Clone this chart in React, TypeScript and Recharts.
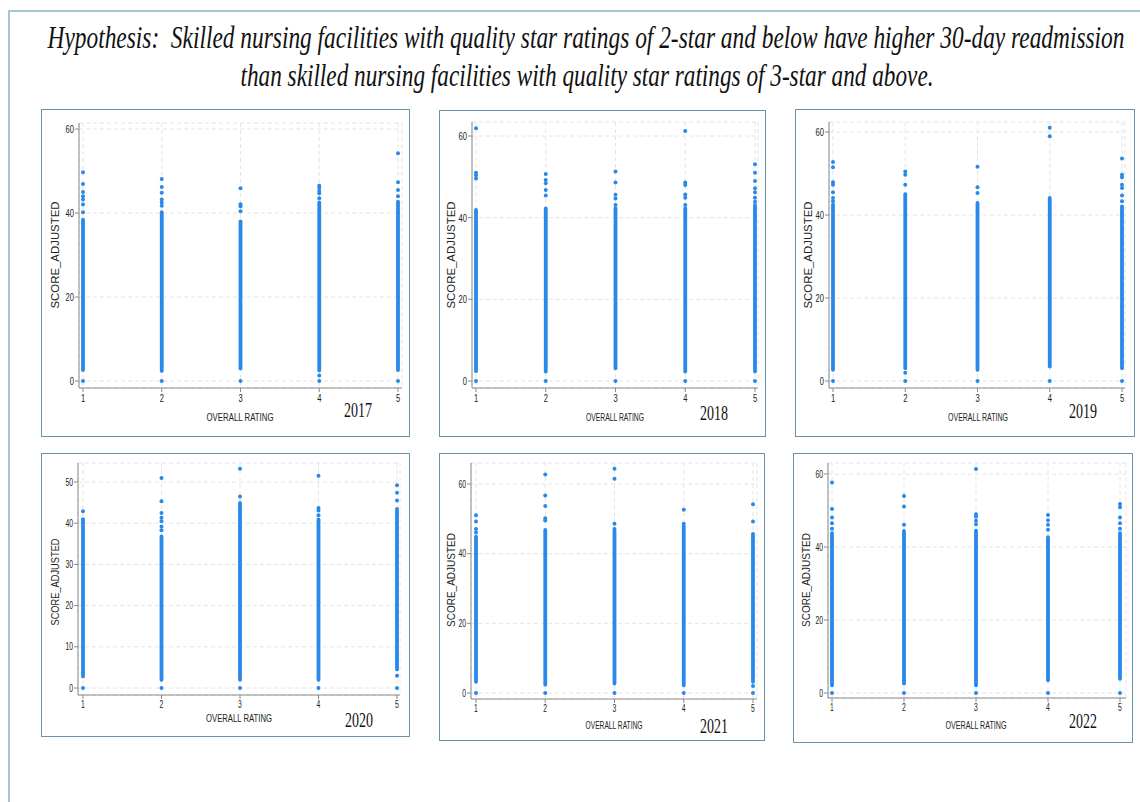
import React from 'react';
import { ComposedChart, Scatter, Line, XAxis, YAxis, CartesianGrid } from 'recharts';

// Overall star rating categories on the x axis
const ratings = [1, 2, 3, 4, 5];
const ratingTicks = [1, 2, 3, 4, 5];
const scoreTicks60 = [0, 20, 40, 60];
const scoreTicks50 = [0, 10, 20, 30, 40, 50];

// Dense run of facility scores for each rating: [lowest, highest] of the packed column
const band2017 = [[2.6, 38.4], [2.4, 40.2], [3.0, 38.0], [2.5, 42.5], [2.6, 42.7]];
const band2018 = [[2.4, 41.9], [2.3, 42.3], [3.1, 42.3], [2.3, 42.3], [2.3, 43.1]];
const band2019 = [[2.7, 42.5], [3.1, 45.0], [2.7, 42.9], [3.5, 44.1], [3.1, 42.1]];
const band2020 = [[2.8, 41.0], [2.0, 36.8], [2.0, 44.9], [2.0, 40.9], [4.5, 43.5]];
const band2021 = [[3.2, 44.9], [2.4, 46.8], [2.7, 46.4], [2.2, 47.8], [3.2, 45.7]];
const band2022 = [[2.1, 43.8], [2.6, 44.4], [2.1, 44.5], [3.5, 42.7], [3.9, 43.8]];

// Individual facilities that sit apart from the packed column, per rating
const pts2017 = [
  [49.7, 46.9, 45.0, 44.0, 43.2, 42.0, 40.2, 0],
  [48.1, 46.2, 44.8, 43.2, 42.5, 41.7, 0],
  [45.9, 42.1, 41.6, 40.4, 0],
  [46.5, 46.0, 45.3, 44.7, 43.5, 1.3, 0],
  [54.2, 47.3, 45.5, 44.0, 0],
];
const pts2018 = [
  [61.9, 51.0, 50.4, 49.6, 0],
  [50.7, 49.2, 48.4, 46.8, 45.4, 0],
  [51.3, 48.6, 45.6, 44.7, 43.1, 0],
  [61.2, 48.6, 48.0, 45.7, 44.9, 43.1, 0],
  [53.1, 51.0, 49.0, 47.2, 46.2, 44.9, 43.9, 0],
];
const pts2019 = [
  [52.8, 51.5, 47.9, 47.3, 45.5, 44.1, 43.3, 0],
  [50.5, 49.7, 47.3, 2.0, 0],
  [51.6, 46.7, 45.3, 0],
  [61.0, 59.0, 0],
  [53.6, 49.7, 49.1, 47.3, 46.5, 44.7, 43.3, 0],
];
const pts2020 = [
  [42.9, 0],
  [51.0, 45.3, 42.5, 41.3, 40.5, 39.2, 38.3, 0],
  [53.2, 46.5, 0],
  [51.5, 43.7, 43.1, 41.9, 0],
  [49.2, 47.4, 45.5, 3.0, 0],
];
const pts2021 = [
  [51.0, 49.2, 47.1, 46.1, 0],
  [62.7, 56.7, 53.7, 50.2, 49.5, 0],
  [64.4, 61.5, 48.6, 47.1, 0],
  [52.6, 48.6, 0],
  [54.2, 49.2, 2.0, 0],
];
const pts2022 = [
  [57.7, 50.4, 48.1, 46.5, 45.0, 0],
  [54.0, 51.1, 46.1, 0],
  [61.4, 49.0, 48.3, 47.2, 46.2, 0],
  [48.8, 47.3, 46.1, 44.7, 0],
  [51.8, 50.9, 48.1, 46.5, 45.0, 0],
];

const DOT = '#2789ea';
const PANEL_EDGE = '#6995a7';
const FRAME_EDGE = '#a9c5d1';
const AXIS = '#8a8a8a';
const INK = '#222';
const SANS = "'Liberation Sans', Arial, sans-serif";
const SERIF = "'Liberation Serif', 'Times New Roman', serif";
// horizontal squeeze of the lettering
const SQ = 0.68;

type Panel = {
  year: string;
  bands: number[][];
  pts: number[][];
  yTicks: number[];
  box: [number, number, number, number];
  plot: [number, number, number, number];
  xPx: [number, number];
  yPx: [number, number];
  yearAt: [number, number];
  xTitle: [number, number, number];
  yTitle: [number, number, number];
  font: number;
};

const panels: Panel[] = [
  { year: '2017', bands: band2017, pts: pts2017, yTicks: scoreTicks60, font: 11.2,
    box: [41, 109, 410, 437], plot: [79, 123, 402, 388], xPx: [83, 398], yPx: [381, 129],
    yearAt: [358, 410], xTitle: [240, 417, 67], yTitle: [55, 255, 107] },
  { year: '2018', bands: band2018, pts: pts2018, yTicks: scoreTicks60, font: 11.2,
    box: [439, 110, 766, 437], plot: [472, 122, 758, 388], xPx: [476, 755], yPx: [381, 136],
    yearAt: [714, 413], xTitle: [615, 417, 58], yTitle: [451, 255, 107] },
  { year: '2019', bands: band2019, pts: pts2019, yTicks: scoreTicks60, font: 11.2,
    box: [795, 109, 1135, 437], plot: [829, 122, 1125, 388], xPx: [833, 1122], yPx: [381, 132],
    yearAt: [1083, 411], xTitle: [978, 417, 60], yTitle: [808, 255, 107] },
  { year: '2020', bands: band2020, pts: pts2020, yTicks: scoreTicks50, font: 10,
    box: [41, 453, 410, 737], plot: [78, 463, 400, 695], xPx: [83, 397], yPx: [688, 482],
    yearAt: [359, 720], xTitle: [239, 718, 66], yTitle: [55, 582, 87] },
  { year: '2021', bands: band2021, pts: pts2021, yTicks: scoreTicks60, font: 10,
    box: [439, 453, 765, 741], plot: [471, 463, 757, 699], xPx: [476, 753], yPx: [693, 484],
    yearAt: [714, 726], xTitle: [614, 725, 57], yTitle: [451, 580, 94] },
  { year: '2022', bands: band2022, pts: pts2022, yTicks: scoreTicks60, font: 10,
    box: [793, 453, 1133, 743], plot: [828, 463, 1126, 698], xPx: [832, 1120], yPx: [693, 474],
    yearAt: [1083, 721], xTitle: [976, 725, 61], yTitle: [806, 580, 94] },
];

const Y_AXIS_W = 30;
const X_AXIS_H = 24;

const dotShape = (props: any) => (
  <circle cx={props.cx} cy={props.cy} r={2} fill={DOT} />
);

const makeXTick = (font: number) => (props: any) => (
  <g transform={`translate(${props.x},${props.y})`}>
    <text
      x={0} y={0} dy="0.72em" textAnchor="middle" fontFamily={SANS} fontSize={font}
      fill={INK} transform={`scale(${SQ},1)`}
    >
      {props.payload.value}
    </text>
  </g>
);

const makeYTick = (font: number) => (props: any) => (
  <g transform={`translate(${props.x},${props.y})`}>
    <text
      x={0} y={0} dy="0.36em" textAnchor="end" fontFamily={SANS} fontSize={font}
      fill={INK} transform={`scale(${SQ},1)`}
    >
      {props.payload.value}
    </text>
  </g>
);

function ScorePanel({ p }: { p: Panel }) {
  const [bl, bt, br, bb] = p.box;
  const [pl, pt, pr, pb] = p.plot;
  const w = br - bl;
  const h = bb - bt;

  // axis domains chosen so the ticks land where the plot frame needs them
  const xs = (p.xPx[1] - p.xPx[0]) / 4;
  const xDomain = [1 - (p.xPx[0] - pl) / xs, 5 + (pr - p.xPx[1]) / xs];
  const topTick = p.yTicks[p.yTicks.length - 1];
  const ys = (p.yPx[0] - p.yPx[1]) / topTick;
  const yDomain = [-(pb - p.yPx[0]) / ys, (p.yPx[0] - pt) / ys];

  const scatterData = ratings.flatMap((r, i) => p.pts[i].map((v) => ({ x: r, y: v })));

  return (
    <>
      <div
        style={{
          position: 'absolute', left: bl, top: bt, width: w, height: h,
          border: `1.5px solid ${PANEL_EDGE}`, boxSizing: 'border-box', background: '#fff',
        }}
      />
      <div style={{ position: 'absolute', left: bl, top: bt }}>
        <ComposedChart
          width={w}
          height={h}
          margin={{ top: pt - bt, right: br - pr, bottom: bb - pb - X_AXIS_H, left: pl - bl - Y_AXIS_W }}
        >
          <CartesianGrid stroke="#e4e4e4" strokeDasharray="4 3" />
          <XAxis
            type="number"
            dataKey="x"
            domain={xDomain}
            ticks={ratingTicks}
            allowDataOverflow
            height={X_AXIS_H}
            stroke={AXIS}
            tickSize={4}
            tickMargin={2}
            tick={makeXTick(p.font)}
          />
          <YAxis
            type="number"
            dataKey="y"
            domain={yDomain}
            ticks={p.yTicks}
            allowDataOverflow
            width={Y_AXIS_W}
            stroke={AXIS}
            tickSize={4}
            tickMargin={1}
            tick={makeYTick(p.font)}
          />
          {ratings.map((r, i) => (
            <Line
              key={`band-${r}`}
              data={[{ x: r, y: p.bands[i][0] }, { x: r, y: p.bands[i][1] }]}
              dataKey="y"
              stroke={DOT}
              strokeWidth={3.8}
              strokeLinecap="round"
              dot={false}
              activeDot={false}
              isAnimationActive={false}
            />
          ))}
          <Scatter data={scatterData} fill={DOT} shape={dotShape} isAnimationActive={false} />
        </ComposedChart>
      </div>
    </>
  );
}

const TITLE_SQ = 0.76;

export default function App() {
  return (
    <div
      style={{
        position: 'absolute', left: 0, top: 0, width: 1140, height: 802,
        overflow: 'hidden', background: '#fff',
      }}
    >
      <div
        style={{
          position: 'absolute', left: 8, top: 10, width: 1140, height: 800,
          borderTop: `2px solid ${FRAME_EDGE}`, borderLeft: `2px solid ${FRAME_EDGE}`,
          boxSizing: 'border-box',
        }}
      />
      {panels.map((p) => (
        <ScorePanel key={p.year} p={p} />
      ))}
      <svg
        width={1140}
        height={802}
        style={{ position: 'absolute', left: 0, top: 0, pointerEvents: 'none' }}
      >
        <g transform={`translate(586,48) scale(${TITLE_SQ},1)`}>
          <text
            x={0} y={0} textAnchor="middle" fontFamily={SERIF} fontStyle="italic"
            fontSize={31} fill="#111" textLength={1077 / TITLE_SQ} lengthAdjust="spacingAndGlyphs"
          >
            {'Hypothesis:\u00a0 Skilled nursing facilities with quality star ratings of 2-star and below have higher 30-day readmission'}
          </text>
        </g>
        <g transform={`translate(587,86) scale(${TITLE_SQ},1)`}>
          <text
            x={0} y={0} textAnchor="middle" fontFamily={SERIF} fontStyle="italic"
            fontSize={31} fill="#111" textLength={693 / TITLE_SQ} lengthAdjust="spacingAndGlyphs"
          >
            than skilled nursing facilities with quality star ratings of 3-star and above.
          </text>
        </g>
        {panels.map((p) => (
          <g key={`t-${p.year}`}>
            <g transform={`translate(${p.xTitle[0]},${p.xTitle[1] + p.font * 0.36}) scale(${SQ},1)`}>
              <text
                x={0} y={0} textAnchor="middle" fontFamily={SANS} fontSize={p.font} fill={INK}
                textLength={p.xTitle[2] / SQ} lengthAdjust="spacingAndGlyphs"
              >
                OVERALL RATING
              </text>
            </g>
            <text
              x={0} y={0} textAnchor="middle" fontFamily={SANS} fontSize={p.font} fill={INK}
              textLength={p.yTitle[2]} lengthAdjust="spacingAndGlyphs"
              transform={`translate(${p.yTitle[0] + p.font * 0.36}, ${p.yTitle[1]}) rotate(-90)`}
            >
              SCORE_ADJUSTED
            </text>
            <g transform={`translate(${p.yearAt[0]},${p.yearAt[1] + 7}) scale(${SQ},1)`}>
              <text
                x={0} y={0} textAnchor="middle" fontFamily={SERIF} fontSize={21} fill="#111"
                textLength={28 / SQ} lengthAdjust="spacingAndGlyphs"
              >
                {p.year}
              </text>
            </g>
          </g>
        ))}
      </svg>
    </div>
  );
}
